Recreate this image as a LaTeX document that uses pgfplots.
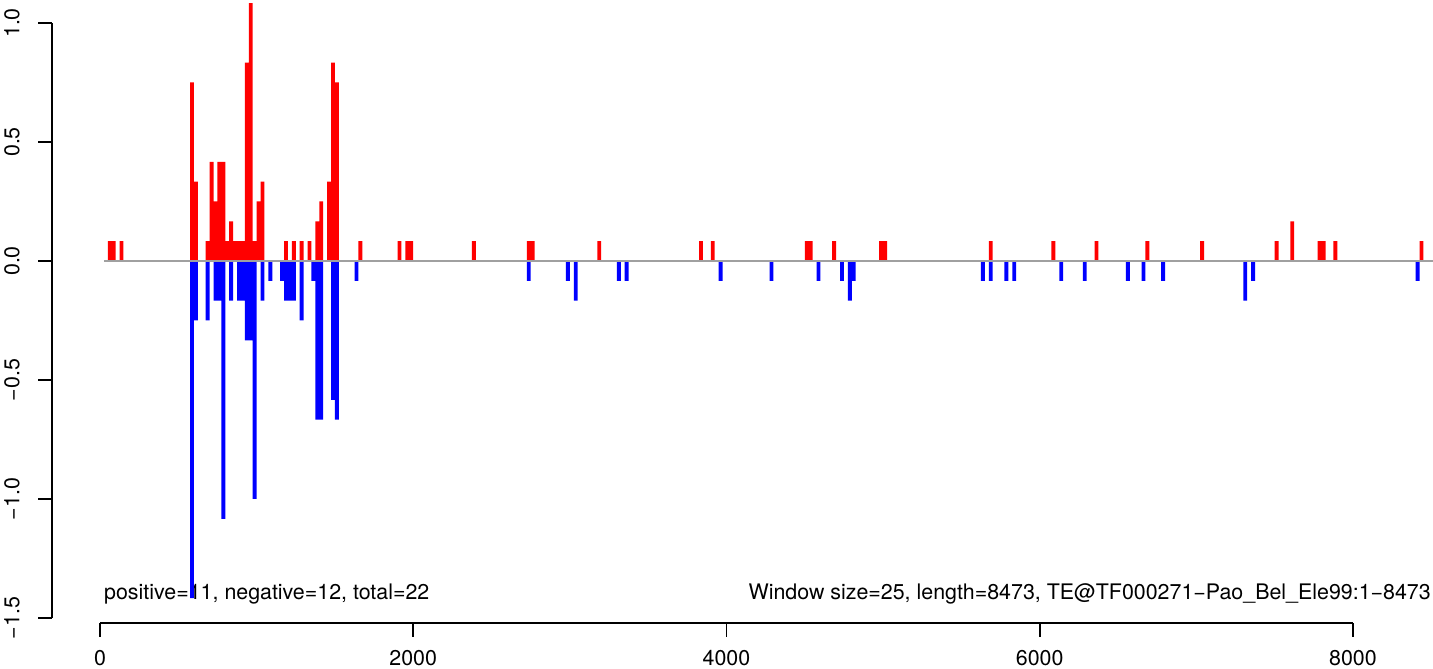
\documentclass[border=0pt]{standalone}
\usepackage{fontspec}
\setmainfont{TeX Gyre Heros}
\usepackage{pgfplots}
\pgfplotsset{compat=1.18}
\definecolor{zl}{RGB}{160,160,160}
\definecolor{pr}{RGB}{255,0,0}
\definecolor{pb}{RGB}{0,0,255}
\pgfplotstableread{
x y
62.5 0.0833
87.5 0.0833
137.5 0.0833
587.5 0.75
612.5 0.3333
687.5 0.0833
712.5 0.4167
737.5 0.25
762.5 0.4167
787.5 0.4167
812.5 0.0833
837.5 0.1667
862.5 0.0833
887.5 0.0833
912.5 0.0833
937.5 0.8333
962.5 1.0833
987.5 0.0833
1012.5 0.25
1037.5 0.3333
1187.5 0.0833
1237.5 0.0833
1287.5 0.0833
1337.5 0.0833
1387.5 0.1667
1412.5 0.25
1462.5 0.3333
1487.5 0.8333
1512.5 0.75
1662.5 0.0833
1912.5 0.0833
1962.5 0.0833
1987.5 0.0833
2387.5 0.0833
2737.5 0.0833
2762.5 0.0833
3187.5 0.0833
3837.5 0.0833
3912.5 0.0833
4512.5 0.0833
4537.5 0.0833
4687.5 0.0833
4987.5 0.0833
5012.5 0.0833
5687.5 0.0833
6087.5 0.0833
6362.5 0.0833
6687.5 0.0833
7037.5 0.0833
7512.5 0.0833
7612.5 0.1667
7787.5 0.0833
7812.5 0.0833
7887.5 0.0833
8437.5 0.0833
}\posdata
\pgfplotstableread{
x y
587.5 -1.4167
612.5 -0.25
687.5 -0.25
737.5 -0.1667
762.5 -0.1667
787.5 -1.0833
837.5 -0.1667
887.5 -0.1667
912.5 -0.1667
937.5 -0.3333
962.5 -0.3333
987.5 -1.0
1037.5 -0.1667
1087.5 -0.0833
1162.5 -0.0833
1187.5 -0.1667
1212.5 -0.1667
1237.5 -0.1667
1287.5 -0.25
1362.5 -0.0833
1387.5 -0.6667
1412.5 -0.6667
1487.5 -0.5833
1512.5 -0.6667
1637.5 -0.0833
2737.5 -0.0833
2987.5 -0.0833
3037.5 -0.1667
3312.5 -0.0833
3362.5 -0.0833
3962.5 -0.0833
4287.5 -0.0833
4587.5 -0.0833
4737.5 -0.0833
4787.5 -0.1667
4812.5 -0.0833
5637.5 -0.0833
5687.5 -0.0833
5787.5 -0.0833
5837.5 -0.0833
6137.5 -0.0833
6287.5 -0.0833
6562.5 -0.0833
6662.5 -0.0833
6787.5 -0.0833
7312.5 -0.1667
7362.5 -0.0833
8412.5 -0.0833
}\negdata
\begin{document}
\begin{tikzpicture}
\begin{axis}[
  at={(52pt,46pt)}, anchor=south west,
  scale only axis, width=1381pt, height=623pt,
  xmin=-306.5, xmax=8510.8, ymin=-1.521, ymax=1.0966,
  clip=false,
  axis line style={draw=none},
  axis x line*=bottom, axis y line*=left,
  xtick={0,2000,4000,6000,8000},
  xticklabels={0,2000,4000,6000,8000},
  ytick={-1.5,-1,-0.5,0,0.5,1},
  yticklabels={−1.5,−1.0,−0.5,0.0,0.5,1.0},
  tick align=outside, major tick length=14pt,
  minor tick num=0,
  tick style={black, line width=1.8pt},
  xticklabel style={font=\fontsize{21.4}{25}\selectfont, anchor=north, inner sep=0pt, yshift=-13.5pt},
  yticklabel style={font=\fontsize{21.4}{25}\selectfont, rotate=90, anchor=south, inner sep=0pt, yshift=18pt},
]
\node[anchor=base west, inner sep=0pt, font=\fontsize{21.4}{25}\selectfont] at (axis cs:25.5,-1.4202) {positive=11, negative=12, total=22};
\node[anchor=base east, inner sep=0pt, font=\fontsize{21.4}{25}\selectfont] at (axis cs:8498,-1.4202) {Window size=25, length=8473, TE@TF000271−Pao\_Bel\_Ele99:1−8473};
\addplot[ybar, bar width=25, bar shift=0, fill=pr, draw=none] table[x=x,y=y] {\posdata};
\addplot[ybar, bar width=25, bar shift=0, fill=pb, draw=none] table[x=x,y=y] {\negdata};
\draw[zl, line width=2pt] (axis cs:25,0) -- (axis cs:8510,0);
\draw[black, line width=1.8pt] (axis cs:0,-1.521) -- (axis cs:8000,-1.521);
\draw[black, line width=1.8pt] (axis cs:-306.5,-1.5) -- (axis cs:-306.5,1.0);
\end{axis}
\pgfresetboundingbox
\path[use as bounding box] (0,0) rectangle (1433pt,669pt);
\end{tikzpicture}
\end{document}
